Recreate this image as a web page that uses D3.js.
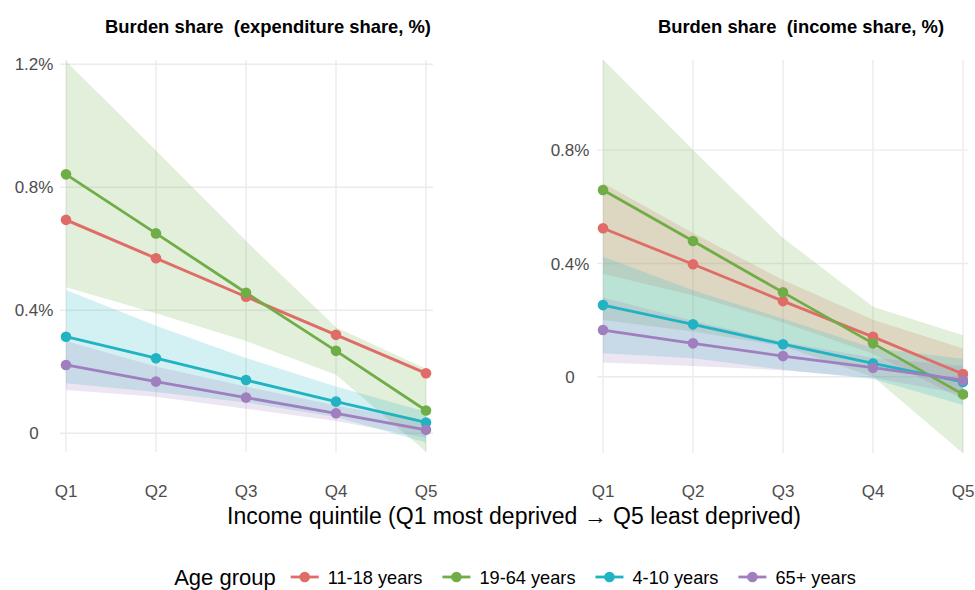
<!DOCTYPE html>
<html>
<head>
<meta charset="utf-8">
<script src="https://cdn.jsdelivr.net/npm/d3@7"></script>
<style>
  html, body { margin: 0; padding: 0; background: #ffffff; }
  svg { display: block; font-family: "Liberation Sans", Arial, Helvetica, sans-serif; }
</style>
</head>
<body>
<svg id="chart" width="975" height="590"></svg>
<script>
// ---------------- DATA ----------------
const quintiles = ["Q1", "Q2", "Q3", "Q4", "Q5"];
const ageGroups = ["11-18 years", "19-64 years", "4-10 years", "65+ years"];
const groupColors = ["#E06C67", "#70AD47", "#21B3C2", "#A07FBE"];

// Expenditure share (%) – left panel
const exp_11_18     = [0.694, 0.569, 0.444, 0.320, 0.195];
const exp_11_18_lo  = [0.688, 0.563, 0.439, 0.315, 0.188];
const exp_11_18_hi  = [0.700, 0.575, 0.449, 0.325, 0.202];
const exp_19_64     = [0.842, 0.650, 0.457, 0.268, 0.074];
const exp_19_64_lo  = [0.475, 0.390, 0.300, 0.190, -0.060];
const exp_19_64_hi  = [1.210, 0.920, 0.625, 0.345, 0.210];
const exp_4_10      = [0.314, 0.244, 0.173, 0.103, 0.035];
const exp_4_10_lo   = [0.163, 0.134, 0.100, 0.053, -0.030];
const exp_4_10_hi   = [0.466, 0.350, 0.245, 0.152, 0.070];
const exp_65        = [0.222, 0.168, 0.116, 0.065, 0.011];
const exp_65_lo     = [0.141, 0.119, 0.080, 0.040, -0.015];
const exp_65_hi     = [0.300, 0.217, 0.152, 0.090, 0.037];

// Income share (%) – right panel
const inc_11_18     = [0.524, 0.397, 0.267, 0.141, 0.010];
const inc_11_18_lo  = [0.364, 0.287, 0.192, 0.081, -0.080];
const inc_11_18_hi  = [0.684, 0.507, 0.342, 0.201, 0.100];
const inc_19_64     = [0.659, 0.479, 0.298, 0.118, -0.062];
const inc_19_64_lo  = [0.200, 0.160, 0.108, 0.000, -0.270];
const inc_19_64_hi  = [1.120, 0.800, 0.490, 0.247, 0.147];
const inc_4_10      = [0.253, 0.185, 0.115, 0.047, -0.018];
const inc_4_10_lo   = [0.083, 0.065, 0.025, -0.008, -0.100];
const inc_4_10_hi   = [0.424, 0.305, 0.205, 0.102, 0.064];
const inc_65        = [0.165, 0.118, 0.073, 0.032, -0.012];
const inc_65_lo     = [0.050, 0.038, 0.023, -0.003, -0.062];
const inc_65_hi     = [0.280, 0.198, 0.123, 0.067, 0.038];

const expTicks = [0, 0.4, 0.8, 1.2];
const incTicks = [0, 0.4, 0.8];

const panelTitles = ["Burden share  (expenditure share, %)", "Burden share  (income share, %)"];
const xAxisTitle = "Income quintile (Q1 most deprived \u2192 Q5 least deprived)";
const legendTitle = "Age group";

// ---------------- BUILD ----------------
function series(mid, lo, hi) {
  return quintiles.map((q, i) => ({ q, v: mid[i], lo: lo[i], hi: hi[i] }));
}
const expSeries = [
  series(exp_11_18, exp_11_18_lo, exp_11_18_hi),
  series(exp_19_64, exp_19_64_lo, exp_19_64_hi),
  series(exp_4_10, exp_4_10_lo, exp_4_10_hi),
  series(exp_65, exp_65_lo, exp_65_hi)
];
const incSeries = [
  series(inc_11_18, inc_11_18_lo, inc_11_18_hi),
  series(inc_19_64, inc_19_64_lo, inc_19_64_hi),
  series(inc_4_10, inc_4_10_lo, inc_4_10_hi),
  series(inc_65, inc_65_lo, inc_65_hi)
];

const svg = d3.select("#chart");
const FONT_TICK = 17;
const gridColor = "#EBEBEB";
const textColor = "#4D4D4D";

const panels = [
  { id: "p0", left: 60, right: 433, top: 60, bottom: 452,
    xr: [66, 426], ydom: [-0.061, 1.214], ticks: expTicks, data: expSeries,
    labelX: 34, title: panelTitles[0], titleX: 268 },
  { id: "p1", left: 597, right: 968, top: 60, bottom: 453,
    xr: [603, 963], ydom: [-0.269, 1.118], ticks: incTicks, data: incSeries,
    labelX: 570, title: panelTitles[1], titleX: 801 }
];

const fmt = d => d === 0 ? "0" : d3.format(".1f")(d) + "%";

panels.forEach(p => {
  const x = d3.scalePoint().domain(quintiles).range(p.xr);
  const y = d3.scaleLinear().domain(p.ydom).range([p.bottom, p.top]);
  const g = svg.append("g");

  svg.append("clipPath").attr("id", "clip-" + p.id)
    .append("rect").attr("x", p.left).attr("y", p.top)
    .attr("width", p.right - p.left).attr("height", p.bottom - p.top);

  // grid: horizontal
  g.append("g").selectAll("line").data(p.ticks).join("line")
    .attr("x1", p.left).attr("x2", p.right)
    .attr("y1", d => y(d)).attr("y2", d => y(d))
    .attr("stroke", gridColor).attr("stroke-width", 1.4);
  // grid: vertical
  g.append("g").selectAll("line").data(quintiles).join("line")
    .attr("x1", d => x(d)).attr("x2", d => x(d))
    .attr("y1", p.top).attr("y2", p.bottom)
    .attr("stroke", gridColor).attr("stroke-width", 1.4);

  // y tick labels
  g.append("g").selectAll("text").data(p.ticks).join("text")
    .attr("x", p.labelX).attr("y", d => y(d))
    .attr("dy", "0.36em").attr("text-anchor", "middle")
    .attr("font-size", FONT_TICK).attr("fill", textColor)
    .text(fmt);

  // x tick labels
  g.append("g").selectAll("text").data(quintiles).join("text")
    .attr("x", d => x(d)).attr("y", 491)
    .attr("dy", "0.36em").attr("text-anchor", "middle")
    .attr("font-size", FONT_TICK).attr("fill", textColor)
    .text(d => d);

  // panel title
  svg.append("text").attr("x", p.titleX).attr("y", 33)
    .attr("text-anchor", "middle").attr("font-weight", "bold")
    .attr("font-size", 18.4).attr("fill", "#000")
    .style("white-space", "pre")
    .text(p.title);

  const plot = g.append("g").attr("clip-path", "url(#clip-" + p.id + ")");

  const area = d3.area().x(d => x(d.q)).y0(d => y(d.lo)).y1(d => y(d.hi));
  const line = d3.line().x(d => x(d.q)).y(d => y(d.v));

  plot.append("g").selectAll("path").data(p.data).join("path")
    .attr("d", area)
    .attr("fill", (d, i) => groupColors[i]).attr("fill-opacity", 0.2);

  plot.append("g").selectAll("path").data(p.data).join("path")
    .attr("d", line).attr("fill", "none")
    .attr("stroke", (d, i) => groupColors[i]).attr("stroke-width", 2.8)
    .attr("stroke-linejoin", "round");

  p.data.forEach((s, i) => {
    plot.append("g").selectAll("circle").data(s).join("circle")
      .attr("cx", d => x(d.q)).attr("cy", d => y(d.v)).attr("r", 5.3)
      .attr("fill", groupColors[i]);
  });
});

// x axis title
svg.append("text").attr("x", 514).attr("y", 516).attr("dy", "0.36em")
  .attr("text-anchor", "middle").attr("font-size", 23).attr("fill", "#000")
  .text(xAxisTitle);

// legend
const leg = svg.append("g");
const legY = 577;
const lt = leg.append("text").attr("x", 0).attr("y", legY).attr("dy", "0.36em")
  .attr("font-size", 22).attr("fill", "#000").text(legendTitle);
let cx = lt.node().getComputedTextLength() + 15;
ageGroups.forEach((name, i) => {
  leg.append("line").attr("x1", cx).attr("x2", cx + 28)
    .attr("y1", legY).attr("y2", legY)
    .attr("stroke", groupColors[i]).attr("stroke-width", 2.8);
  leg.append("circle").attr("cx", cx + 14).attr("cy", legY).attr("r", 5.3)
    .attr("fill", groupColors[i]);
  const t = leg.append("text").attr("x", cx + 37).attr("y", legY).attr("dy", "0.36em")
    .attr("font-size", 18.2).attr("fill", "#000").text(name);
  cx += 37 + t.node().getComputedTextLength() + 20;
});
const total = cx - 20;
leg.attr("transform", `translate(${515 - total / 2},0)`);
</script>
</body>
</html>
